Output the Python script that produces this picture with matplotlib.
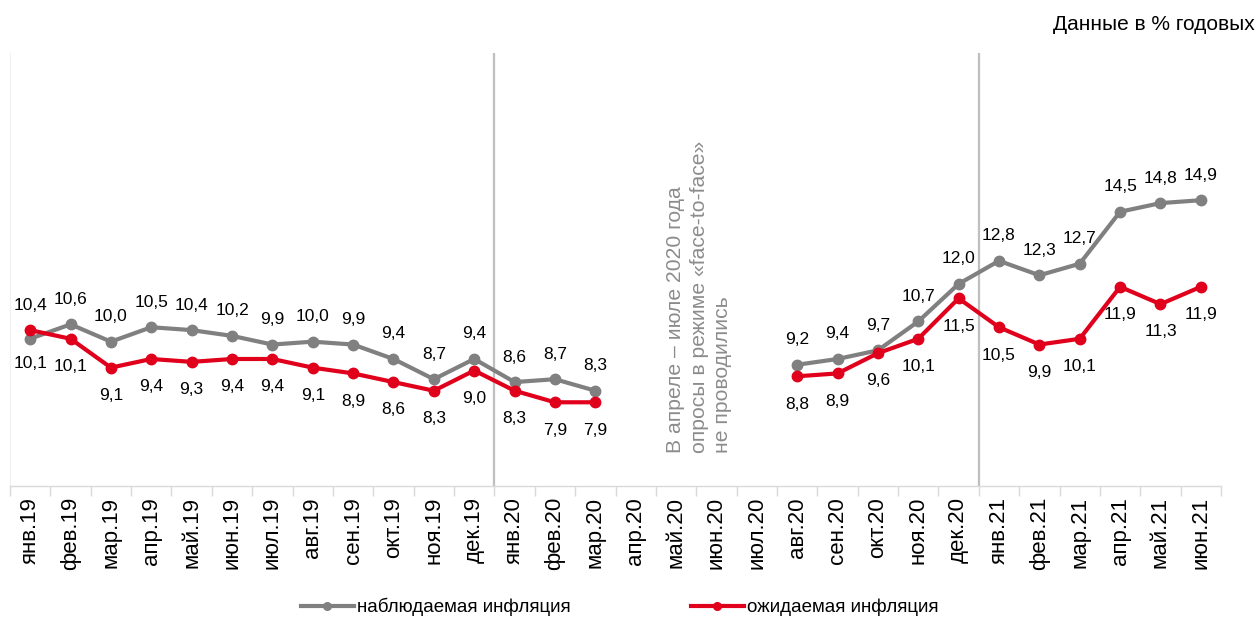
import matplotlib
matplotlib.use("Agg")
import matplotlib.pyplot as plt
import numpy as np

plt.rcParams['font.family'] = ['Liberation Sans', 'DejaVu Sans']

months = ["янв.19", "фев.19", "мар.19", "апр.19", "май.19", "июн.19", "июл.19",
          "авг.19", "сен.19", "окт.19", "ноя.19", "дек.19",
          "янв.20", "фев.20", "мар.20", "апр.20", "май.20", "июн.20", "июл.20",
          "авг.20", "сен.20", "окт.20", "ноя.20", "дек.20",
          "янв.21", "фев.21", "мар.21", "апр.21", "май.21", "июн.21"]

observed = [10.1, 10.6, 10.0, 10.5, 10.4, 10.2, 9.9, 10.0, 9.9, 9.4, 8.7, 9.4,
            8.6, 8.7, 8.3, None, None, None, None,
            9.2, 9.4, 9.7, 10.7, 12.0,
            12.8, 12.3, 12.7, 14.5, 14.8, 14.9]

expected = [10.4, 10.1, 9.1, 9.4, 9.3, 9.4, 9.4, 9.1, 8.9, 8.6, 8.3, 9.0,
            8.3, 7.9, 7.9, None, None, None, None,
            8.8, 8.9, 9.6, 10.1, 11.5,
            10.5, 9.9, 10.1, 11.9, 11.3, 11.9]

series_names = ["наблюдаемая инфляция", "ожидаемая инфляция"]
note = "В апреле – июле 2020 года\nопросы в режиме «face-to-face»\nне проводились"
title = "Данные в % годовых"

GRAY = "#808080"
RED = "#E0001B"

fig = plt.figure(figsize=(12.59, 6.19), dpi=100)
ax = fig.add_axes([10/1259, 1-486/619, 1211/1259, 433/619])

x = np.arange(len(months))
obs = np.array([np.nan if v is None else v for v in observed], dtype=float)
exp_ = np.array([np.nan if v is None else v for v in expected], dtype=float)

ax.plot(x, obs, color=GRAY, lw=3, marker='o', ms=7.5, zorder=3)
ax.plot(x, exp_, color=RED, lw=3, marker='o', ms=7.5, zorder=4)

ax.set_xlim(-0.5, len(months) - 0.5)
ax.set_ylim(5, 20)

def fmt(v):
    return f"{v:.1f}".replace('.', ',')

for i in range(len(months)):
    o, e = obs[i], exp_[i]
    if np.isnan(o):
        continue
    obs_above = o >= e
    ax.annotate(fmt(o), (i, o), xytext=(0, 18 if obs_above else -18),
                textcoords='offset points', ha='center', va='center', fontsize=12.5)
    ax.annotate(fmt(e), (i, e), xytext=(0, -20 if obs_above else 18),
                textcoords='offset points', ha='center', va='center', fontsize=12.5)

# separator lines
for b in [11.5, 23.5]:
    ax.axvline(b, color='#BFBFBF', lw=1.6, zorder=1)

ax.text(16.57, 6.14, note, rotation=90, ha='center', va='bottom', fontsize=15.2,
        color='#8C8C8C', linespacing=1.3, multialignment='left')

for s in ['top', 'right']:
    ax.spines[s].set_visible(False)
ax.spines['left'].set_color('#F0F0F0')
ax.spines['bottom'].set_color('#D9D9D9')
ax.spines['bottom'].set_linewidth(1)
ax.set_yticks([])

ax.set_xticks(x)
ax.set_xticklabels(months, rotation=90, fontsize=16)
ax.tick_params(axis='x', which='major', length=0, pad=8)
ax.set_xticks(np.arange(-0.5, len(months)), minor=True)
ax.tick_params(axis='x', which='minor', length=7, color='#D9D9D9', width=1)

fig.text(1255/1259, 1-24/619, title, ha='right', va='center', fontsize=15)

h1, = ax.plot([], [], color=GRAY, lw=3, marker='o', ms=5.5)
h2, = ax.plot([], [], color=RED, lw=3, marker='o', ms=5.5)
fig.legend([h1, h2], series_names, loc='center', bbox_to_anchor=(620/1259, 1-607/619),
           ncol=2, frameon=False, fontsize=13.5, handlelength=2.8, columnspacing=6.4,
           handletextpad=0.2)

fig.savefig("out.png", dpi=100)
